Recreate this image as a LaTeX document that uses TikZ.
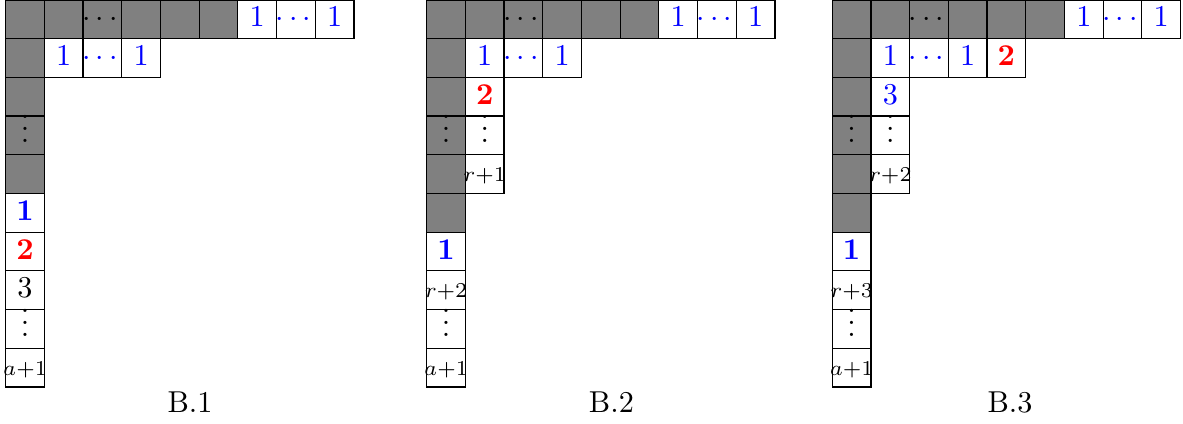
\documentclass[tikz,border=0pt]{standalone}
\usepackage{tikz}
\usetikzlibrary{positioning}
\usepackage{amsmath, amssymb}
\colorlet{shade}{black!50}
\colorlet{accB}{blue}
\colorlet{accR}{red}
\tikzset{
  box/.style  ={draw=black, line width=0.4pt, fill=white, minimum size=4.5mm,
                inner sep=0pt, outer sep=0pt, text height=6.5pt, text depth=1.5pt,
                execute at begin node={\hbox to 0pt\bgroup\hss},
                execute at end node={\hss\egroup}},
  dark/.style ={box, fill=shade},
  one/.style  ={box, text=accB},
  oneB/.style ={box, text=accB, font=\bfseries},
  two/.style  ={box, text=accR, font=\bfseries},
  idx/.style  ={box},
  tabname/.style={anchor=base},
}

\begin{document}
\begin{tikzpicture}[x=4.5mm, y=4.5mm]
\useasboundingbox (0,-10.956) rectangle (30.57,0);

% the two top rows are the same in all three
\foreach \t/\ox/\lx in {1/0.147/4.91, 2/11.026/15.80, 3/21.507/26.10} {
  \foreach \c/\txt in {1/, 2/, 3/$\cdots$, 4/, 5/, 6/}
    \node[dark] (T\t-1-\c) at (\ox+\c-0.5, -0.5) {\txt};
  \foreach \c/\txt in {7/1, 8/$\cdots$, 9/1}
    \node[one] (T\t-1-\c) at (\ox+\c-0.5, -0.5) {\txt};
  \node[dark] (T\t-2-1) at (\ox+0.5, -1.5) {};
  \foreach \c/\txt in {2/1, 3/$\cdots$, 4/1}
    \node[one] (T\t-2-\c) at (\ox+\c-0.5, -1.5) {\txt};
  \node[tabname] (name\t) at (\lx, -10.65) {B.\t};
}

% B.1
\foreach \r/\txt in {3/, 4/$\vdots$, 5/}
  \node[dark] (T1-\r-1) at (0.647, 0.5-\r) {\txt};
\node[oneB] (T1-6-1)  at (0.647, -5.5) {1};
\node[two]  (T1-7-1)  at (0.647, -6.5) {2};
\node[box]  (T1-8-1)  at (0.647, -7.5) {3};
\node[box]  (T1-9-1)  at (0.647, -8.5) {$\vdots$};
\node[idx]  (T1-10-1) at (0.647, -9.5) {$\scriptstyle a+1$};

% B.2 and B.3
\foreach \t/\ox/\k in {2/11.026/1, 3/21.507/2} {
  \foreach \r/\txt in {3/, 4/$\vdots$, 5/, 6/}
    \node[dark] (T\t-\r-1) at (\ox+0.5, 0.5-\r) {\txt};
  \node[oneB] (T\t-7-1)  at (\ox+0.5, -6.5) {1};
  \pgfmathtruncatemacro{\kk}{\k+1}
  \node[idx]  (T\t-8-1)  at (\ox+0.5, -7.5) {$\scriptstyle r+\kk$};
  \node[box]  (T\t-9-1)  at (\ox+0.5, -8.5) {$\vdots$};
  \node[idx]  (T\t-10-1) at (\ox+0.5, -9.5) {$\scriptstyle a+1$};
  \node[box]  (T\t-4-2)  at (\ox+1.5, -3.5) {$\vdots$};
  \node[idx]  (T\t-5-2)  at (\ox+1.5, -4.5) {$\scriptstyle r+\k$};
}
\node[two] (T2-3-2) at (12.526, -2.5) {2};
\node[one] (T3-3-2) at (23.007, -2.5) {3};
\node[two] (T3-2-5) at (26.007, -1.5) {2};

\end{tikzpicture}
\end{document}
